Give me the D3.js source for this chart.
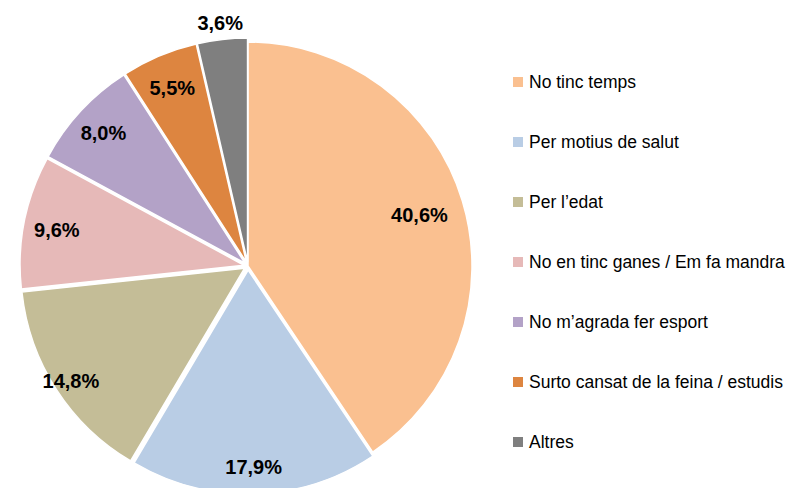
<!DOCTYPE html>
<html>
<head>
<meta charset="utf-8">
<script src="https://cdn.jsdelivr.net/npm/d3@7"></script>
<style>
  body { margin: 0; background: #fff; }
  svg { display: block; font-family: "Liberation Sans", Arial, sans-serif; }
</style>
</head>
<body>
<div id="chart"></div>
<script>
var categories = ["No tinc temps", "Per motius de salut", "Per l\u2019edat",
  "No en tinc ganes / Em fa mandra", "No m\u2019agrada fer esport",
  "Surto cansat de la feina / estudis", "Altres"];
var values = [40.6, 17.9, 14.8, 9.6, 8.0, 5.5, 3.6];
var labels = ["40,6%", "17,9%", "14,8%", "9,6%", "8,0%", "5,5%", "3,6%"];
var colors = ["#FAC090", "#B9CDE5", "#C4BD97", "#E6B9B8", "#B3A2C7", "#DD8540", "#7F7F7F"];

var width = 787, height = 488;
var cx = 248, cy = 266, radius = 224;

var svg = d3.select("#chart")
  .append("svg")
    .attr("width", width)
    .attr("height", height);

var pie = d3.pie().sort(null).value(function(d) { return d; });
var arcs = pie(values);

var arc = d3.arc().innerRadius(0).outerRadius(radius);

// small explosion for all slices except the first one
function offset(d, i) {
  var k = i === 0 ? 0 : 4;
  var a = (d.startAngle + d.endAngle) / 2;
  return [Math.sin(a) * k, -Math.cos(a) * k];
}

var g = svg.append("g")
  .attr("transform", "translate(" + cx + "," + cy + ")");

g.selectAll("path.slice")
  .data(arcs)
  .enter()
  .append("path")
    .attr("class", "slice")
    .attr("d", arc)
    .attr("fill", function(d, i) { return colors[i]; })
    .attr("stroke", "#fff")
    .attr("stroke-width", 1.5)
    .attr("transform", function(d, i) {
      var o = offset(d, i);
      return "translate(" + o[0] + "," + o[1] + ")";
    });

// label radius per slice (last one sits outside the pie)
var labelR = [0.8, 0.89, 0.94, 0.87, 0.88, 0.87, 1.1];

g.selectAll("text.pct")
  .data(arcs)
  .enter()
  .append("text")
    .attr("class", "pct")
    .attr("transform", function(d, i) {
      var a = (d.startAngle + d.endAngle) / 2;
      var r = radius * labelR[i];
      return "translate(" + (Math.sin(a) * r) + "," + (-Math.cos(a) * r) + ")";
    })
    .attr("text-anchor", "middle")
    .attr("dy", "0.42em")
    .attr("font-size", "20px")
    .attr("font-weight", "bold")
    .attr("fill", "#000")
    .text(function(d, i) { return labels[i]; });

// legend
var legend = svg.append("g")
  .attr("transform", "translate(513,82)");

var rows = legend.selectAll("g.row")
  .data(categories)
  .enter()
  .append("g")
    .attr("class", "row")
    .attr("transform", function(d, i) { return "translate(0," + (i * 60) + ")"; });

rows.append("rect")
  .attr("x", 0)
  .attr("y", -5)
  .attr("width", 10)
  .attr("height", 10)
  .attr("fill", function(d, i) { return colors[i]; });

rows.append("text")
  .attr("x", 16)
  .attr("dy", "0.36em")
  .attr("font-size", "17.5px")
  .attr("fill", "#000")
  .text(function(d) { return d; });
</script>
</body>
</html>
